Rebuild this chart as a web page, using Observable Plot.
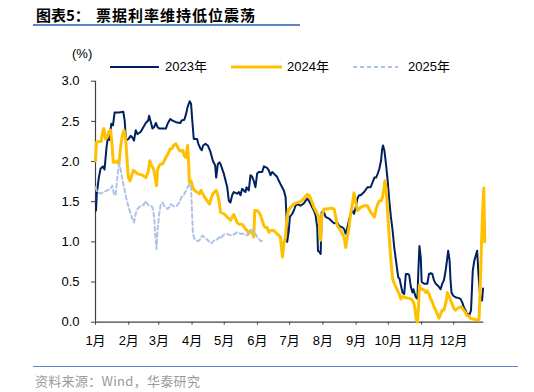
<!DOCTYPE html>
<html><head><meta charset="utf-8">
<script src="https://cdn.jsdelivr.net/npm/d3@7"></script>
<script src="https://cdn.jsdelivr.net/npm/@observablehq/plot@0.6"></script>
<style>
body{margin:0;background:#fff;}
#wrap{position:relative;width:534px;height:392px;overflow:hidden;font-family:"Liberation Sans",Arial,"Noto Sans CJK SC",sans-serif;color:#000;}
.abs{position:absolute;white-space:nowrap;line-height:1;}
#chart{position:absolute;left:0;top:74px;}
</style></head><body><div id="wrap"><div id="chart"></div></div>
<script>
// ---- data ----
const titleText = "图表5：";
const titleMain = "票据利率维持低位震荡";
const sourceText = "资料来源：Wind，华泰研究";
const unitText = "(%)";
const monthStarts = [0,31,59,90,120,151,181,212,243,273,304,334];
const monthLabels = ["1月","2月","3月","4月","5月","6月","7月","8月","9月","10月","11月","12月"];
const yTicks = [0,0.5,1,1.5,2,2.5,3];
const seriesNames = ["2023年","2024年","2025年"];
const seriesColors = ["#002060","#FFC000","#AFC3E8"];

// [day of year, rate %]
const s2023 = [[0.5,1.39],[1.2,1.60],[3.1,1.80],[4.7,1.91],[6.9,1.94],[8.4,1.90],[10.3,2.18],[11.6,2.30],[13.1,2.27],[14.7,2.47],[16.3,2.45],[17.8,2.61],[21.9,2.61],[25.9,2.62],[27.2,2.51],[28.4,2.26],[30.6,2.28],[32.8,2.32],[34.4,2.30],[35.9,2.26],[37.5,2.39],[39.1,2.34],[42.2,2.37],[44.7,2.43],[46.9,2.48],[49.1,2.51],[50,2.57],[51.6,2.49],[53.1,2.41],[54.7,2.43],[56.3,2.48],[57.8,2.43],[59.4,2.41],[62.5,2.41],[65.6,2.41],[67.2,2.47],[69.7,2.53],[71.9,2.51],[75,2.49],[79.1,2.48],[80.3,2.51],[82.8,2.52],[84.4,2.59],[85.9,2.68],[87.8,2.75],[89.1,2.72],[90,2.55],[91.6,2.28],[93.1,2.28],[94.7,2.28],[95.9,2.22],[97.8,2.16],[99.1,2.14],[100.3,2.20],[102.5,2.22],[104.7,2.20],[107.2,2.12],[109.4,2.01],[111.6,1.95],[112.5,1.80],[114.1,1.97],[115.6,1.99],[116.5,1.97],[119.6,1.85],[122.8,1.68],[124.3,1.51],[125.8,1.49],[127.4,1.58],[128.9,1.62],[132.1,1.60],[133.7,1.62],[135.2,1.58],[136.7,1.66],[138.3,1.64],[139.8,1.62],[140.8,1.68],[142.9,1.64],[144.5,1.83],[146.1,1.81],[147.5,1.76],[149.1,1.68],[150.7,1.85],[152.3,1.87],[155.4,1.87],[157,1.94],[160,1.92],[161.6,1.89],[163.1,1.83],[164.7,1.87],[166.3,1.85],[167.8,1.83],[169.3,1.81],[170.9,1.76],[172.4,1.72],[174,1.68],[175.6,1.64],[177.2,1.56],[178.1,1.31],[178.7,1.00],[180.2,1.14],[181.2,1.31],[183.4,1.35],[184.9,1.39],[186.5,1.45],[188.1,1.47],[191.1,1.45],[194.3,1.48],[195.8,1.51],[197.4,1.54],[199,1.51],[200.5,1.47],[202,1.43],[203.6,1.39],[205.2,1.33],[206.7,1.18],[207.4,0.89],[208.9,0.87],[209.9,0.85],[210.9,1.37],[213,1.37],[214.5,1.31],[217.7,1.29],[219.3,1.27],[222.4,1.23],[225.4,1.24],[227,1.20],[230.2,1.18],[231.7,1.16],[233.3,1.10],[234.8,1.18],[236.3,1.27],[237.9,1.35],[239.5,1.39],[241,1.35],[242.6,1.43],[244.2,1.54],[245.7,1.58],[247.2,1.58],[250.4,1.62],[253.5,1.68],[256.5,1.68],[260,1.80],[261.6,1.80],[263.1,1.85],[264.6,1.91],[266.2,2.01],[267.1,2.14],[268,2.20],[269.3,2.14],[270.8,1.97],[272.4,1.76],[273.9,1.51],[275.4,1.31],[277,1.14],[278.5,0.93],[280.1,0.77],[281,0.68],[282.2,0.56],[283.5,0.54],[284.7,0.46],[286.2,0.37],[287.8,0.35],[289.3,0.60],[290.9,0.60],[292.4,0.59],[294,0.44],[295.5,0.37],[296.4,0.41],[297.7,0.35],[298.6,0.31],[300.1,0.29],[301.1,0.68],[302,0.95],[303.2,0.81],[304.1,0.50],[306.3,0.48],[309.4,0.48],[310.9,0.60],[312.5,0.61],[314,0.60],[315.6,0.52],[317.1,0.48],[318.7,0.46],[320.2,0.44],[321.7,0.41],[323.3,0.48],[324.8,0.52],[326.4,0.64],[327.9,0.79],[328.8,0.89],[330.1,0.77],[331,0.52],[331.9,0.37],[333.5,0.33],[335.6,0.31],[338.7,0.30],[340.3,0.29],[341.8,0.25],[343.3,0.19],[344.9,0.15],[346.4,0.10],[348.9,0.10],[350.1,0.15],[351.7,0.64],[353.2,0.77],[354.1,0.81],[355.8,0.89],[357,0.60],[358.5,0.35],[359.5,0.27],[360.4,0.27],[361.3,0.42]];

const s2024 = [[0,2.01],[0.9,2.24],[3.1,2.25],[5.3,2.25],[6.9,2.39],[7.8,2.41],[9.4,2.28],[10.9,2.30],[12.5,2.37],[14.1,2.39],[15.6,2.18],[16.6,1.99],[18.8,1.99],[20.3,2.01],[21.9,1.97],[23.4,2.18],[25,2.32],[26.6,2.39],[28.1,2.28],[29.7,1.97],[30.6,1.80],[32.2,1.76],[33.8,1.83],[35.3,1.89],[39.1,1.85],[43.8,1.83],[46.9,1.80],[49.1,1.87],[50.6,2.01],[52.2,1.95],[54.1,1.91],[55.6,1.80],[56.9,1.70],[57.8,1.89],[59.4,1.95],[60.9,1.97],[62.5,1.97],[64.1,2.01],[65.6,2.05],[67.8,2.10],[69.7,2.16],[71.3,2.16],[72.8,2.20],[75,2.22],[76.6,2.18],[78.1,2.14],[79.7,2.13],[81.3,2.14],[82.8,2.07],[84.4,2.05],[85.9,2.20],[86.9,1.97],[87.5,1.74],[89.1,1.76],[90.6,1.68],[92.2,1.64],[94.7,1.62],[96.9,1.60],[98.4,1.64],[100,1.60],[101.6,1.56],[104.1,1.51],[106.3,1.47],[107.8,1.54],[109.4,1.60],[110.9,1.62],[112.5,1.64],[114.1,1.58],[115.6,1.47],[116.5,1.37],[119.6,1.35],[122.8,1.31],[125.8,1.27],[128.9,1.34],[132.1,1.24],[133.7,1.22],[136.7,1.22],[139.8,1.16],[141.4,1.14],[142.9,1.10],[144.5,1.14],[146.1,1.12],[147.5,1.06],[148.5,1.39],[150.7,1.39],[152.3,1.37],[153.8,1.33],[155.4,1.27],[157,1.20],[158.4,1.18],[160,1.18],[161.6,1.12],[163.1,1.14],[166.3,1.14],[167.8,1.12],[169.3,1.10],[170.9,1.08],[172.4,1.06],[173.4,0.93],[174.3,0.81],[175.6,0.98],[177.2,1.06],[178.1,1.24],[179.7,1.39],[181.8,1.43],[184.9,1.47],[188.1,1.49],[191.1,1.50],[194.3,1.54],[197.4,1.59],[199,1.58],[200.5,1.54],[202,1.49],[203.6,1.43],[205.2,1.39],[206.7,1.35],[208.3,1.31],[209.9,1.02],[210.9,1.31],[213,1.41],[216.1,1.41],[219.3,1.42],[222.4,1.41],[224,1.31],[225.4,1.20],[228.6,1.14],[231.7,1.06],[233.3,0.93],[234.8,1.06],[236.3,1.18],[237.9,1.35],[239.5,1.47],[241,1.61],[242.6,1.49],[244.2,1.39],[245.7,1.41],[247.2,1.43],[250.4,1.45],[253.5,1.45],[256.5,1.37],[260,1.31],[261.6,1.41],[263.1,1.47],[264.6,1.51],[266.2,1.51],[267.7,1.56],[268.7,1.64],[269.9,1.76],[271.1,1.64],[272.4,1.35],[273.9,1.06],[275.4,0.77],[277,0.54],[278.5,0.48],[280.1,0.44],[281.6,0.39],[283.2,0.35],[284.7,0.29],[286.2,0.32],[287.8,0.31],[290.9,0.30],[294,0.29],[295.5,0.27],[297,0.23],[298,0.15],[298.9,0.04],[300.1,0.0],[301.1,0.19],[302,0.46],[303.2,0.41],[304.8,0.41],[306.3,0.40],[307.9,0.37],[309.4,0.39],[310.9,0.35],[312.5,0.29],[314,0.25],[315.6,0.19],[317.1,0.15],[318.7,0.10],[320.2,0.05],[321.7,0.10],[323.3,0.15],[324.8,0.15],[326.4,0.23],[327.3,0.29],[327.9,0.37],[329.5,0.33],[331,0.27],[332.5,0.23],[334.1,0.17],[335.6,0.15],[337.2,0.17],[338.7,0.18],[340.3,0.19],[341.8,0.18],[343.3,0.15],[344.9,0.12],[346.4,0.08],[348,0.08],[349.5,0.05],[351.1,0.04],[352.6,0.04],[354.1,0.03],[357.5,0.03],[358.2,0.23],[359.5,0.82],[360.7,1.32],[362,1.67],[362.9,1.00]];

const s2025 = [[0,1.68],[1.6,1.62],[4.7,1.60],[7.8,1.62],[10.9,1.64],[14.1,1.66],[15.6,1.70],[17.2,1.60],[18.8,1.58],[20.3,1.80],[21.9,1.97],[23.4,1.91],[25,1.78],[26.6,1.68],[28.1,1.58],[29.7,1.49],[31.3,1.41],[32.8,1.35],[34.4,1.29],[35.9,1.24],[37.5,1.35],[39.1,1.41],[42.2,1.45],[44.7,1.46],[46.9,1.51],[48.4,1.47],[50,1.45],[51.6,1.45],[53.1,1.43],[54.7,1.31],[55.6,1.10],[56.9,0.91],[57.8,1.14],[59.4,1.35],[60.9,1.47],[62.5,1.49],[64.1,1.45],[65.6,1.43],[67.2,1.41],[68.8,1.43],[70.3,1.47],[71.9,1.45],[73.4,1.44],[75.9,1.45],[78.1,1.49],[80.3,1.56],[82.2,1.58],[84.4,1.64],[85.9,1.68],[87.5,1.72],[89.1,1.68],[90,1.35],[90.9,1.10],[92.2,1.04],[93.8,1.02],[95.3,1.01],[96.9,1.02],[98.4,1.06],[100,1.08],[101.6,1.05],[103.1,1.04],[104.7,1.02],[106.3,1.00],[107.8,0.98],[109.4,1.00],[110.9,1.02],[112.5,1.02],[114.1,1.04],[115.6,1.06],[116.5,1.04],[119.6,1.09],[122.8,1.10],[125.8,1.08],[128.9,1.09],[132.1,1.12],[135.2,1.10],[138.3,1.10],[141.4,1.08],[144.5,1.14],[147.5,1.15],[149.1,1.10],[150.7,1.06],[152.3,1.04],[153.8,1.01],[155.4,1.01]];

// ---- build ----
const toRows = s => s.map(([day, value]) => ({day, value}));
const wrap = document.getElementById("wrap");

function addDiv(text, css){
  const d = document.createElement("div");
  d.className = "abs";
  d.textContent = text;
  d.style.cssText += css;
  wrap.appendChild(d);
  return d;
}

const chart = Plot.plot({
  width: 534,
  height: 281,
  marginLeft: 95,
  marginRight: 50.7,
  marginTop: 6.7,
  marginBottom: 33.3,
  x: {domain: [0, 362]},
  y: {domain: [0, 3]},
  style: {fontFamily: '"Liberation Sans", Arial, "Noto Sans CJK SC", sans-serif', fontSize: "13px", color: "#000", background: "transparent", overflow: "visible"},
  marks: [
    Plot.axisY({ticks: yTicks, tickFormat: d => d.toFixed(1), tickSize: 4, tickPadding: 12, label: null, stroke: "#404040"}),
    Plot.axisX({ticks: monthStarts, tickFormat: d => monthLabels[monthStarts.indexOf(d)], tickSize: 3, tickPadding: 11, label: null, stroke: "#404040"}),
    Plot.ruleX([0], {stroke: "#404040", strokeWidth: 1.2}),
    Plot.ruleY([0], {stroke: "#404040", strokeWidth: 1.2}),
    Plot.line(toRows(s2023), {x: "day", y: "value", stroke: seriesColors[0], strokeWidth: 2, curve: "linear"}),
    Plot.line(toRows(s2024), {x: "day", y: "value", stroke: seriesColors[1], strokeWidth: 3, curve: "linear"}),
    Plot.line(toRows(s2025), {x: "day", y: "value", stroke: seriesColors[2], strokeWidth: 2, strokeDasharray: "4,3", curve: "linear"})
  ]
});
document.getElementById("chart").appendChild(chart);

// title
addDiv(titleText, 'left:36px;top:7px;font-family:"Noto Sans CJK SC";font-weight:700;font-size:15px;');
addDiv(titleMain, 'left:96px;top:7px;font-family:"Noto Sans CJK SC";font-weight:700;font-size:15px;letter-spacing:1px;');
const ul = document.createElement("div");
ul.style.cssText = "position:absolute;left:33px;top:24px;width:267px;height:1.5px;background:#5a86c2;";
wrap.appendChild(ul);

// unit
addDiv(unitText, 'left:72px;top:47px;font-size:13px;');

// legend
const legendLines = [[110,159],[231,282],[353,398]];
const legendText = [165,287,408];
seriesNames.forEach((name, i) => {
  const [x0, x1] = legendLines[i];
  const svgNS = "http://www.w3.org/2000/svg";
  const sw = document.createElementNS(svgNS, "svg");
  sw.setAttribute("width", x1 - x0);
  sw.setAttribute("height", 8);
  sw.style.cssText = `position:absolute;left:${x0}px;top:63px;`;
  const ln = document.createElementNS(svgNS, "line");
  ln.setAttribute("x1", 0); ln.setAttribute("x2", x1 - x0);
  ln.setAttribute("y1", 4); ln.setAttribute("y2", 4);
  ln.setAttribute("stroke", seriesColors[i]);
  ln.setAttribute("stroke-width", i === 1 ? 3 : 2);
  if (i === 2) ln.setAttribute("stroke-dasharray", "4,3");
  sw.appendChild(ln);
  wrap.appendChild(sw);
  addDiv(name, `left:${legendText[i]}px;top:60px;font-size:13px;`);
});

// source
const sl = document.createElement("div");
sl.style.cssText = "position:absolute;left:33px;top:366px;width:485px;height:1.2px;background:#5a86c2;";
wrap.appendChild(sl);
addDiv(sourceText, 'left:35px;top:374px;font-family:"Noto Sans CJK SC";font-size:13px;color:#9a9a9a;letter-spacing:0.3px;');
</script>
</body></html>
